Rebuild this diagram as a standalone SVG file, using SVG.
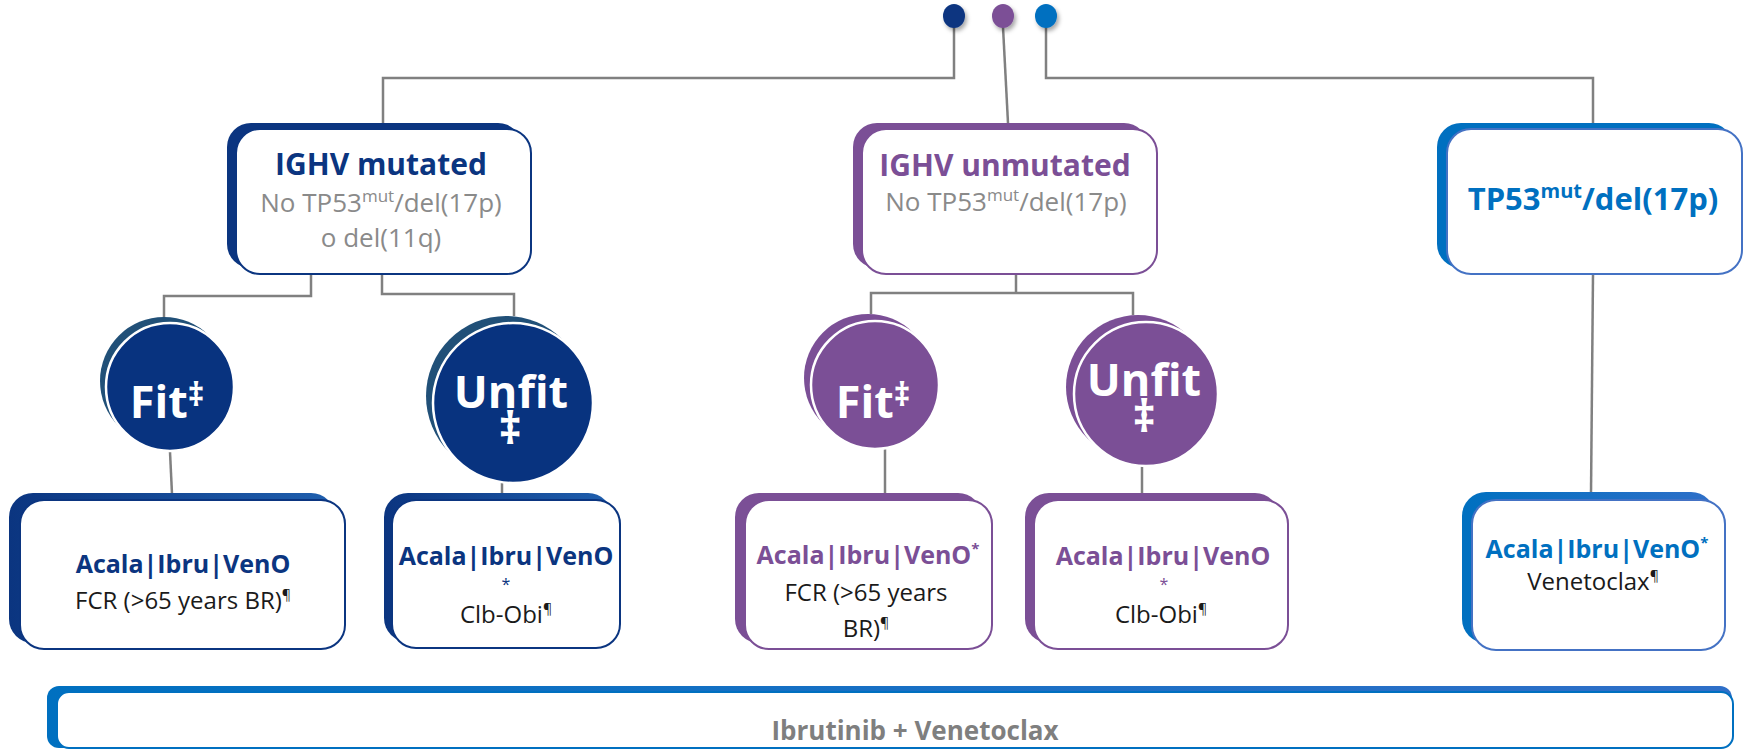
<svg xmlns="http://www.w3.org/2000/svg" width="1745" height="750" viewBox="0 0 1745 750">
<defs>
<style>
.conn{fill:none;stroke:#808080;stroke-width:2.5}
.t{font-family:"Open Sans","Noto Sans","DejaVu Sans",sans-serif;text-anchor:middle}
.b{font-weight:bold}
.title{font-size:30px;font-weight:bold}
.sub{font-size:26px;fill:#8a8a8a}
.circ{font-size:45px;font-weight:bold;fill:#fff}
.rx{font-size:25px;font-weight:bold}
.r2{font-size:24px;fill:#1a1a1a}
.navy{fill:#0b3580}
.purp{fill:#7b4f96}
.blue{fill:#0070c0}
.inner-navy{fill:#fff;stroke:#0b3580;stroke-width:2}
.inner-purp{fill:#fff;stroke:#7b4f96;stroke-width:2}
.inner-blue{fill:#fff;stroke:#4472c4;stroke-width:2}
.inner-band{fill:#fff;stroke:#0070c0;stroke-width:2}
</style>
<linearGradient id="gNavy" x1="0" y1="0" x2="1" y2="0">
<stop offset="0" stop-color="#0b3580"/>
<stop offset="1" stop-color="#1f5fae"/>
</linearGradient>
<linearGradient id="gBlue" x1="0" y1="0" x2="1" y2="0">
<stop offset="0" stop-color="#0070c0"/>
<stop offset="1" stop-color="#2f6fc8"/>
</linearGradient>
<filter id="ds" x="-50%" y="-50%" width="200%" height="200%">
<feDropShadow dx="2" dy="3" stdDeviation="2" flood-color="#000" flood-opacity="0.35"/>
</filter>
</defs>
<rect x="0" y="0" width="1745" height="750" fill="#fff"/>

<g id="connectors">
<path class="conn" d="M954,27 V78 H383 V123"/>
<path class="conn" d="M1003,27 L1008,123"/>
<path class="conn" d="M1046,27 V78 H1593 V123"/>
<path class="conn" d="M311,274 V296 H164 V318"/>
<path class="conn" d="M382,274 V294 H514 V316"/>
<path class="conn" d="M170,452 L172,494"/>
<path class="conn" d="M502,483 V494"/>
<path class="conn" d="M1016,274 V293"/>
<path class="conn" d="M871,314 V293 H1133 V315"/>
<path class="conn" d="M885,449 V494"/>
<path class="conn" d="M1142,466 V494"/>
<path class="conn" d="M1593,274 L1591,493"/>
</g>

<g id="dot-navy"><ellipse cx="954" cy="16" rx="11" ry="12" fill="#0b3580" filter="url(#ds)"/></g>
<g id="dot-purple"><ellipse cx="1003" cy="16" rx="11" ry="12" fill="#7b4f96" filter="url(#ds)"/></g>
<g id="dot-blue"><ellipse cx="1046" cy="16" rx="11" ry="12" fill="#0070c0" filter="url(#ds)"/></g>

<g id="ighv-mutated">
<rect x="227" y="123" width="295" height="145" rx="24" fill="#0b3580"/>
<rect class="inner-navy" x="236" y="129" width="295" height="145" rx="24"/>
<text class="t title navy" x="381" y="175">IGHV mutated</text>
<text class="t sub" x="381" y="212">No TP53<tspan font-size="17" dy="-10">mut</tspan><tspan dy="10">/del(17p)</tspan></text>
<text class="t sub" x="381" y="247">o del(11q)</text>
</g>

<g id="ighv-unmutated">
<rect x="853" y="123" width="295" height="145" rx="24" fill="#7b4f96"/>
<rect class="inner-purp" x="862" y="129" width="295" height="145" rx="24"/>
<text class="t title purp" x="1005" y="176">IGHV unmutated</text>
<text class="t sub" x="1006" y="211">No TP53<tspan font-size="17" dy="-10">mut</tspan><tspan dy="10">/del(17p)</tspan></text>
</g>

<g id="tp53">
<rect x="1437" y="123" width="296" height="145" rx="24" fill="#0070c0"/>
<rect class="inner-blue" x="1447" y="129" width="295" height="145" rx="24"/>
<text class="t b blue" x="1593" y="210" font-size="31">TP53<tspan font-size="20" dy="-12">mut</tspan><tspan dy="12">/del(17p)</tspan></text>
</g>

<g id="fit-mutated">
<circle cx="164" cy="381" r="64" fill="#215078"/>
<circle cx="170" cy="387" r="64" fill="#08337f" stroke="#fff" stroke-width="2.5"/>
<text class="t circ" x="167" y="418">Fit<tspan font-size="32" dy="-12">‡</tspan></text>
</g>

<g id="unfit-mutated">
<circle cx="506" cy="396" r="80" fill="#215078"/>
<circle cx="513" cy="403" r="80" fill="#08337f" stroke="#fff" stroke-width="2.5"/>
<text class="t circ" x="511" y="408">Unfit</text>
<text class="t circ" x="510" y="444" font-size="30">‡</text>
</g>

<g id="fit-unmutated">
<circle cx="868" cy="378" r="64" fill="#7b4f96"/>
<circle cx="875" cy="385" r="64" fill="#7b4f96" stroke="#fff" stroke-width="2.5"/>
<text class="t circ" x="873" y="418">Fit<tspan font-size="32" dy="-12">‡</tspan></text>
</g>

<g id="unfit-unmutated">
<circle cx="1138" cy="387" r="72" fill="#7b4f96"/>
<circle cx="1146" cy="394" r="72" fill="#7b4f96" stroke="#fff" stroke-width="2.5"/>
<text class="t circ" x="1144" y="396">Unfit</text>
<text class="t circ" x="1144" y="432" font-size="30">‡</text>
</g>

<g id="tx-fit-mutated">
<rect x="9" y="493" width="326" height="150" rx="24" fill="url(#gNavy)"/>
<rect class="inner-navy" x="20" y="500" width="325" height="149" rx="24"/>
<text class="t rx navy" x="183" y="573">Acala|Ibru|VenO</text>
<text class="t r2" x="183" y="609">FCR (&gt;65 years BR)<tspan font-size="14" dy="-9">¶</tspan></text>
</g>

<g id="tx-unfit-mutated">
<rect x="384" y="493" width="228" height="149" rx="24" fill="url(#gNavy)"/>
<rect class="inner-navy" x="392" y="500" width="228" height="148" rx="24"/>
<text class="t rx navy" x="506" y="565">Acala|Ibru|VenO</text>
<text class="t navy" x="506" y="590" font-size="16">*</text>
<text class="t r2" x="506" y="623">Clb-Obi<tspan font-size="14" dy="-9">¶</tspan></text>
</g>

<g id="tx-fit-unmutated">
<rect x="735" y="493" width="247" height="150" rx="24" fill="#7b4f96"/>
<rect class="inner-purp" x="745" y="500" width="247" height="149" rx="24"/>
<text class="t rx purp" x="868" y="564">Acala|Ibru|VenO<tspan font-size="15" dy="-10">*</tspan></text>
<text class="t r2" x="866" y="601">FCR (&gt;65 years</text>
<text class="t r2" x="866" y="637">BR)<tspan font-size="14" dy="-9">¶</tspan></text>
</g>

<g id="tx-unfit-unmutated">
<rect x="1025" y="493" width="254" height="150" rx="24" fill="#7b4f96"/>
<rect class="inner-purp" x="1034" y="500" width="254" height="149" rx="24"/>
<text class="t rx purp" x="1163" y="565">Acala|Ibru|VenO</text>
<text class="t purp" x="1164" y="590" font-size="16">*</text>
<text class="t r2" x="1161" y="623">Clb-Obi<tspan font-size="14" dy="-9">¶</tspan></text>
</g>

<g id="tx-tp53">
<rect x="1462" y="492" width="253" height="151" rx="24" fill="url(#gBlue)"/>
<rect class="inner-blue" x="1472" y="500" width="253" height="150" rx="24"/>
<text class="t rx blue" x="1597" y="558">Acala|Ibru|VenO<tspan font-size="15" dy="-10">*</tspan></text>
<text class="t r2" x="1593" y="590">Venetoclax<tspan font-size="14" dy="-9">¶</tspan></text>
</g>

<g id="band">
<rect x="47" y="686" width="1685" height="62" rx="12" fill="url(#gBlue)"/>
<rect class="inner-band" x="57" y="692" width="1676" height="56" rx="12"/>
<text class="t b" x="915" y="740" font-size="26" fill="#7f7f7f">Ibrutinib + Venetoclax</text>
</g>
</svg>
